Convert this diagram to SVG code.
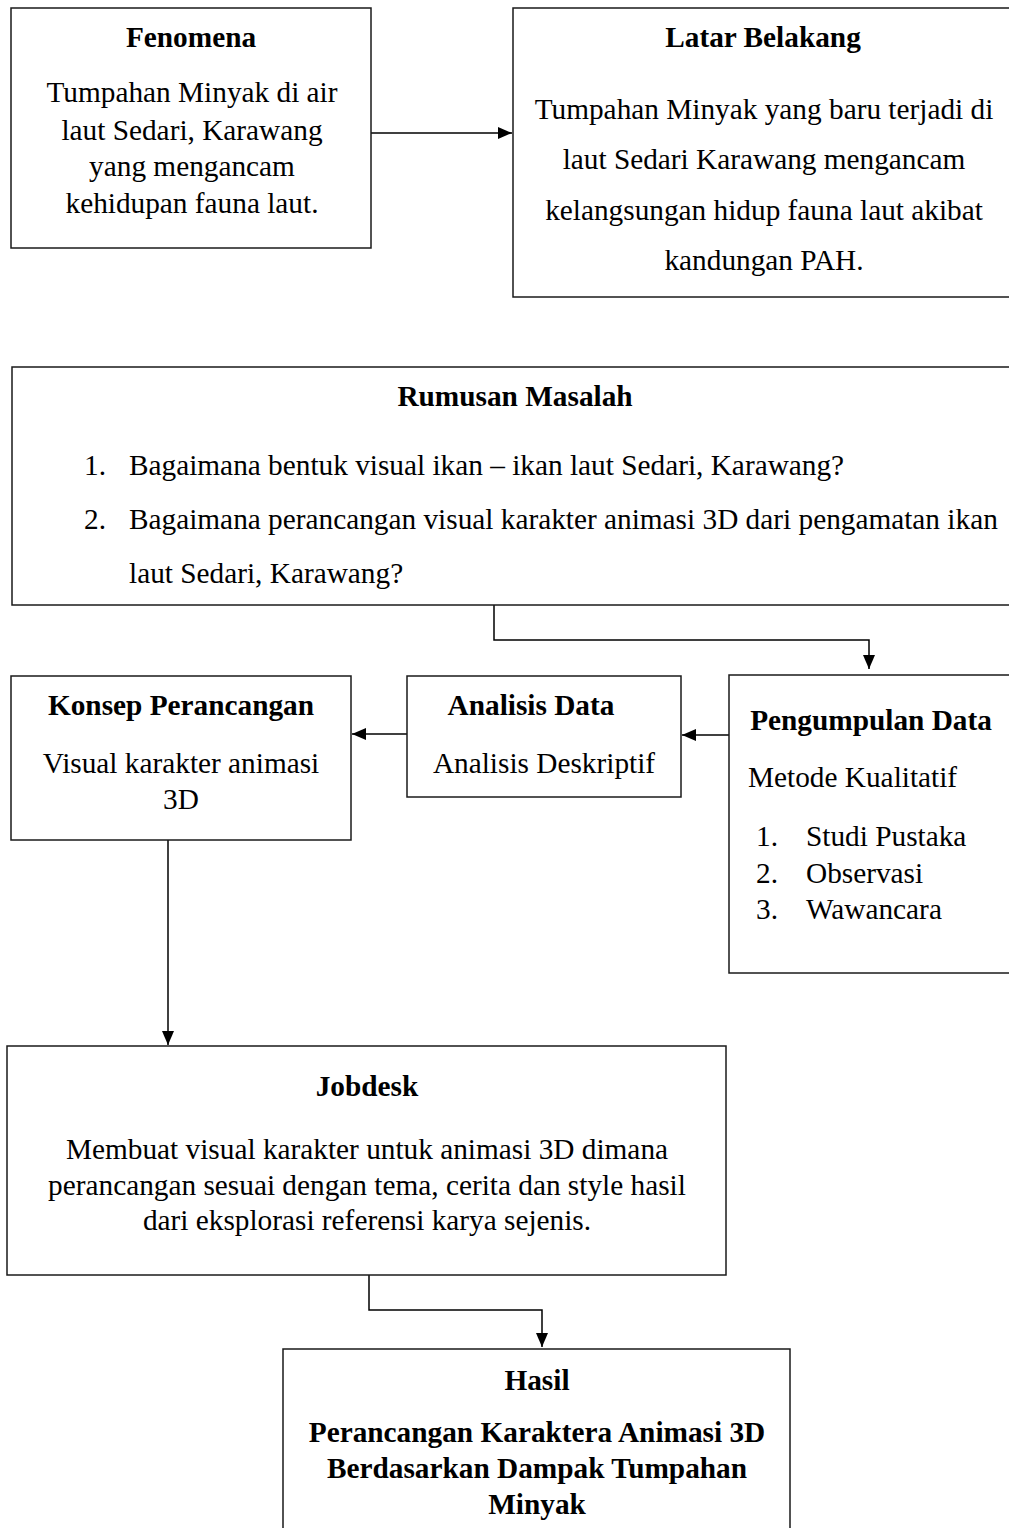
<svg xmlns="http://www.w3.org/2000/svg" width="1009" height="1528" viewBox="0 0 1009 1528">
<style>
.box{fill:#fff;stroke:#1a1a1a;stroke-width:1.5}
.t{font-family:"Liberation Serif","Times New Roman",serif;font-size:29.3px;fill:#000}
.b{font-weight:bold}
.c{text-anchor:middle}
.ln{fill:none;stroke:#000;stroke-width:1.5}
</style>
<defs>
<marker id="ah2" viewBox="0 0 14 12" refX="14" refY="6" markerWidth="14" markerHeight="12" markerUnits="userSpaceOnUse" orient="auto">
<path d="M0,0 L14,6 L0,12 z" fill="#000"/>
</marker>
</defs>
<rect width="1009" height="1528" fill="#fff"/>
<g id="connectors">
<path class="ln" d="M371,133 H512" marker-end="url(#ah2)"/>
<path class="ln" d="M494,605 V640 H869 V669" marker-end="url(#ah2)"/>
<path class="ln" d="M407,734 H352" marker-end="url(#ah2)"/>
<path class="ln" d="M729,735 H682" marker-end="url(#ah2)"/>
<path class="ln" d="M168,840 V1045" marker-end="url(#ah2)"/>
<path class="ln" d="M369,1275 V1310 H542 V1347" marker-end="url(#ah2)"/>
</g>
<g id="fenomena">
<rect class="box" x="11" y="8" width="360" height="240"/>
<text class="t b c" x="191" y="47">Fenomena</text>
<text class="t c" x="192" y="102">Tumpahan Minyak di air</text>
<text class="t c" x="192" y="140">laut Sedari, Karawang</text>
<text class="t c" x="192" y="176">yang mengancam</text>
<text class="t c" x="192" y="213">kehidupan fauna laut.</text>
</g>
<g id="latar-belakang">
<rect class="box" x="513" y="8" width="502" height="289"/>
<text class="t b c" x="763" y="47">Latar Belakang</text>
<text class="t c" x="764" y="119">Tumpahan Minyak yang baru terjadi di</text>
<text class="t c" x="764" y="169">laut Sedari Karawang mengancam</text>
<text class="t c" x="764" y="220">kelangsungan hidup fauna laut akibat</text>
<text class="t c" x="764" y="270">kandungan PAH.</text>
</g>
<g id="rumusan-masalah">
<rect class="box" x="12" y="367" width="1006" height="238"/>
<text class="t b c" x="515" y="406">Rumusan Masalah</text>
<text class="t" x="84" y="475">1.</text>
<text class="t" x="129" y="475">Bagaimana bentuk visual ikan – ikan laut Sedari, Karawang?</text>
<text class="t" x="84" y="529">2.</text>
<text class="t" x="129" y="529">Bagaimana perancangan visual karakter animasi 3D dari pengamatan ikan</text>
<text class="t" x="129" y="583">laut Sedari, Karawang?</text>
</g>
<g id="konsep-perancangan">
<rect class="box" x="11" y="676" width="340" height="164"/>
<text class="t b c" x="181" y="715">Konsep Perancangan</text>
<text class="t c" x="181" y="773">Visual karakter animasi</text>
<text class="t c" x="181" y="809">3D</text>
</g>
<g id="analisis-data">
<rect class="box" x="407" y="676" width="274" height="121"/>
<text class="t b c" x="531" y="715">Analisis Data</text>
<text class="t c" x="544" y="773">Analisis Deskriptif</text>
</g>
<g id="pengumpulan-data">
<rect class="box" x="729" y="675" width="290" height="298"/>
<text class="t b c" x="871" y="730">Pengumpulan Data</text>
<text class="t" x="748" y="787">Metode Kualitatif</text>
<text class="t" x="756" y="846">1.</text>
<text class="t" x="806" y="846">Studi Pustaka</text>
<text class="t" x="756" y="883">2.</text>
<text class="t" x="806" y="883">Observasi</text>
<text class="t" x="756" y="919">3.</text>
<text class="t" x="806" y="919">Wawancara</text>
</g>
<g id="jobdesk">
<rect class="box" x="7" y="1046" width="719" height="229"/>
<text class="t b c" x="367" y="1096">Jobdesk</text>
<text class="t c" x="367" y="1159">Membuat visual karakter untuk animasi 3D dimana</text>
<text class="t c" x="367" y="1195">perancangan sesuai dengan tema, cerita dan style hasil</text>
<text class="t c" x="367" y="1230">dari eksplorasi referensi karya sejenis.</text>
</g>
<g id="hasil">
<rect class="box" x="283" y="1349" width="507" height="190"/>
<text class="t b c" x="537" y="1390">Hasil</text>
<text class="t b c" x="537" y="1442">Perancangan Karaktera Animasi 3D</text>
<text class="t b c" x="537" y="1478">Berdasarkan Dampak Tumpahan</text>
<text class="t b c" x="537" y="1514">Minyak</text>
</g>
</svg>
